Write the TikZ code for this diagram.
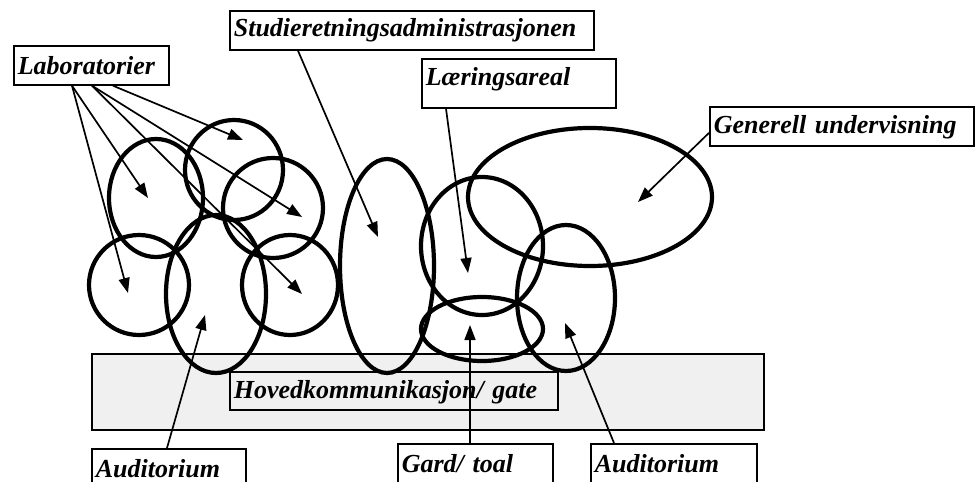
\documentclass[tikz,border=0pt]{standalone}
\usepackage{fontspec}
\setmainfont{Liberation Serif}
\usetikzlibrary{shapes.geometric,arrows.meta,positioning}

\begin{document}
\begin{tikzpicture}[x=1pt,y=-1pt,
	zone/.style={ellipse, draw, line width=4.2pt, inner sep=0pt},
	tag/.style={rectangle, draw, line width=1.7pt, fill=white, anchor=north west, inner xsep=4pt, inner ysep=0pt, align=left, font=\fontsize{26}{30}\selectfont\bfseries\itshape},
	pointer/.style={line width=1.7pt, -{Triangle[length=15pt,width=11pt]}}]
	\useasboundingbox (0,0) rectangle (975,482);
	\clip (0,0) rectangle (975,482);
	
	\node[rectangle, draw, line width=1.7pt, fill=black!6, minimum width=672pt, minimum height=76pt, anchor=north west] (street) at (91,353) {};
	\node[tag, fill=none, text width=320pt, text height=27pt, text depth=11pt] (gate) at (229,371) {Hovedkommunikasjon/ gate};
	
	\node[zone, minimum width=98pt, minimum height=100pt] (labTop) at (234,170) {};
	\node[zone, minimum width=94pt, minimum height=118pt] (labLeft) at (156,198) {};
	\node[zone, minimum width=100pt, minimum height=100pt] (labRight) at (273,208) {};
	\node[zone, minimum width=100pt, minimum height=100pt] (labLow) at (139,285) {};
	\node[zone, minimum width=96pt, minimum height=100pt] (labLowR) at (290,285) {};
	\node[zone, minimum width=100pt, minimum height=158pt] (audA) at (216,294) {};
	\node[zone, minimum width=94pt, minimum height=214pt] (admin) at (387,266) {};
	\node[zone, minimum width=122pt, minimum height=138pt] (learn) at (482,246) {};
	\node[zone, minimum width=122pt, minimum height=64pt] (yard) at (482,329) {};
	\node[zone, minimum width=244pt, minimum height=138pt] (general) at (590,197) {};
	\node[zone, minimum width=98pt, minimum height=146pt] (audB) at (566,298) {};
	
	\node[tag, text width=147pt, text height=29pt, text depth=10pt] (lab) at (13,45) {Laboratorier};
	\node[tag, text width=356pt, text height=26pt, text depth=13pt] (adm) at (229,10) {Studieretningsadministrasjonen};
	\node[tag, text width=186pt, text height=27pt, text depth=22pt] (lrn) at (421,58) {Læringsareal};
	\node[tag, text width=256pt, text height=27pt, text depth=12pt] (gen) at (709,106) {Generell undervisning};
	\node[tag, text width=146pt, text height=29pt, text depth=20pt] (audL) at (91,448) {Auditorium};
	\node[tag, text width=147pt, text height=29pt, text depth=20pt] (gard) at (397,443) {Gard/ toal};
	\node[tag, text width=158pt, text height=29pt, text depth=20pt] (audR) at (590,443) {Auditorium};
	
	\coordinate (labTopTip) at (243,140);
	\coordinate (labLeftTip) at (148,198);
	\coordinate (labRightTip) at (302,217);
	\coordinate (labLowTip) at (128,293);
	\coordinate (labLowRTip) at (302,294);
	\coordinate (audATip) at (205,315);
	\coordinate (adminTip) at (378,237);
	\coordinate (learnTip) at (468,273);
	\coordinate (yardTip) at (470,325);
	\coordinate (generalTip) at (638,202);
	\coordinate (audBTip) at (565,323);
	
	\draw[pointer] ([xshift=100pt]lab.south west) -- (labTopTip);
	\draw[pointer] ([xshift=59pt]lab.south west) -- (labLeftTip);
	\draw[pointer] ([xshift=79pt]lab.south west) -- (labRightTip);
	\draw[pointer] ([xshift=59pt]lab.south west) -- (labLowTip);
	\draw[pointer] ([xshift=79pt]lab.south west) -- (labLowRTip);
	\draw[pointer] ([xshift=69pt]adm.south west) -- (adminTip);
	\draw[pointer] ([xshift=25pt]lrn.south west) -- (learnTip);
	\draw[pointer] ([yshift=-6.5pt]gen.west) -- (generalTip);
	\draw[pointer] ([xshift=76pt]audL.north west) -- (audATip);
	\draw[pointer] ([xshift=73pt]gard.north west) -- (yardTip);
	\draw[pointer] ([xshift=24pt]audR.north west) -- (audBTip);
\end{tikzpicture}
\end{document}
